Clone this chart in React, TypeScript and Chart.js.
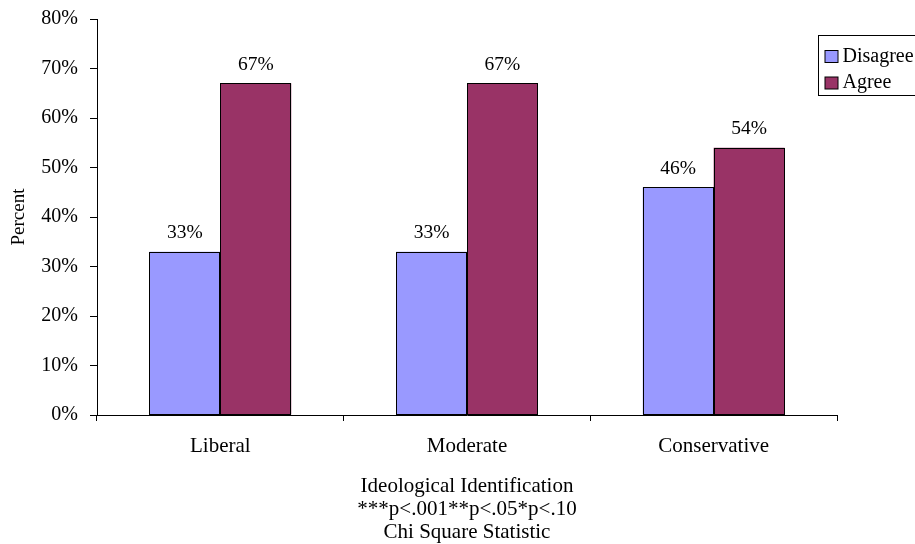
import React, { useEffect, useRef } from "react";
import { Chart, registerables } from "chart.js";

Chart.register(...registerables);

const categories = ["Liberal", "Moderate", "Conservative"];
const seriesNames = ["Disagree", "Agree"];
const disagreeValues = [33, 33, 46];
const agreeValues = [67, 67, 54];
const seriesColors = ["#9999FF", "#993366"];
const yMin = 0;
const yMax = 80;
const yStep = 10;
const yTitle = "Percent";
const xTitleLines = [
  "Ideological Identification",
  "***p<.001**p<.05*p<.10",
  "Chi Square Statistic",
];

const FONT = "'Liberation Serif', 'Times New Roman', serif";

const labelPlugin = {
  id: "barValueLabels",
  afterDatasetsDraw(chart: any) {
    const ctx = chart.ctx;
    ctx.save();
    // crisp black outlines
    ctx.strokeStyle = "#000";
    ctx.lineWidth = 1;
    chart.data.datasets.forEach((ds: any, di: number) => {
      const meta = chart.getDatasetMeta(di);
      meta.data.forEach((el: any) => {
        const l = Math.round(el.x - el.width / 2) + 0.5;
        const r = Math.round(el.x + el.width / 2) - 0.5;
        const t = Math.round(el.y) + 0.5;
        const b = Math.round(el.base) - 0.5;
        ctx.strokeRect(l, t, r - l, b - t);
      });
    });
    ctx.fillStyle = "#000";
    ctx.font = `19.5px ${FONT}`;
    ctx.textAlign = "center";
    ctx.textBaseline = "middle";
    chart.data.datasets.forEach((ds: any, di: number) => {
      const meta = chart.getDatasetMeta(di);
      meta.data.forEach((el: any, i: number) => {
        ctx.fillText(`${ds.data[i]}%`, el.x, el.y - 18.5);
      });
    });
    ctx.restore();
  },
};

const legendPlugin = {
  id: "customLegend",
  afterDraw(chart: any) {
    const ctx = chart.ctx;
    const left = chart.chartArea.right - 18.5;
    const top = 35.5;
    ctx.save();
    ctx.strokeStyle = "#000";
    ctx.lineWidth = 1;
    ctx.fillStyle = "#fff";
    ctx.fillRect(left, top, 140, 60);
    ctx.strokeRect(left, top, 140, 60);
    ctx.font = `20px ${FONT}`;
    ctx.textAlign = "left";
    ctx.textBaseline = "middle";
    seriesNames.forEach((name, i) => {
      const cy = top + 21 + i * 26.5;
      ctx.fillStyle = seriesColors[i];
      ctx.fillRect(left + 6.5, cy - 6, 13, 12);
      ctx.strokeStyle = "#000";
      ctx.strokeRect(left + 6.5, cy - 6, 13, 12);
      ctx.fillStyle = "#000";
      ctx.fillText(name, left + 24, cy);
    });
    ctx.restore();
  },
};

export default function App() {
  const ref = useRef<HTMLCanvasElement | null>(null);

  useEffect(() => {
    if (!ref.current) return;
    const chart = new Chart(ref.current, {
      type: "bar",
      data: {
        labels: categories,
        datasets: [
          {
            label: seriesNames[0],
            data: disagreeValues,
            backgroundColor: seriesColors[0],
            borderWidth: 0,
            inflateAmount: 0,
            categoryPercentage: 0.575,
            barPercentage: 1,
          },
          {
            label: seriesNames[1],
            data: agreeValues,
            backgroundColor: seriesColors[1],
            borderWidth: 0,
            inflateAmount: 0,
            categoryPercentage: 0.575,
            barPercentage: 1,
          },
        ],
      },
      options: {
        animation: false,
        responsive: false,
        maintainAspectRatio: false,
        layout: { padding: { top: 19, right: 78, left: 0, bottom: 0 } },
        plugins: {
          legend: { display: false },
          tooltip: { enabled: false },
        },
        scales: {
          x: {
            offset: true,
            grid: {
              offset: true,
              drawOnChartArea: false,
              tickLength: 6,
              color: "#000",
            },
            border: { color: "#000" },
            ticks: {
              color: "#000",
              font: { family: FONT, size: 21 },
              padding: 13,
            },
            title: {
              display: true,
              text: xTitleLines,
              color: "#000",
              font: { family: FONT, size: 21, lineHeight: 1.1 },
              padding: { top: 0, bottom: 0 },
            },
            afterFit(scale: any) {
              scale.height = 129;
              scale.paddingLeft = 0;
              scale.paddingRight = 0;
            },
          },
          y: {
            min: yMin,
            max: yMax,
            grid: {
              drawOnChartArea: false,
              tickLength: 7,
              color: "#000",
            },
            border: { color: "#000" },
            ticks: {
              stepSize: yStep,
              color: "#000",
              font: { family: FONT, size: 20 },
              padding: 12,
              callback: (v: any) => `${v}%`,
            },
            title: {
              display: true,
              text: yTitle,
              color: "#000",
              font: { family: FONT, size: 19 },
              padding: { top: 8, bottom: 0 },
            },
            afterFit(scale: any) {
              scale.width = 97;
              scale.paddingTop = 0;
              scale.paddingBottom = 0;
            },
          },
        },
      },
      plugins: [labelPlugin, legendPlugin],
    });
    return () => chart.destroy();
  }, []);

  return (
    <div style={{ position: "fixed", left: 0, top: 0, width: 915, height: 544, background: "#fff" }}>
      <canvas ref={ref} width={915} height={544} style={{ width: 915, height: 544 }} />
    </div>
  );
}
